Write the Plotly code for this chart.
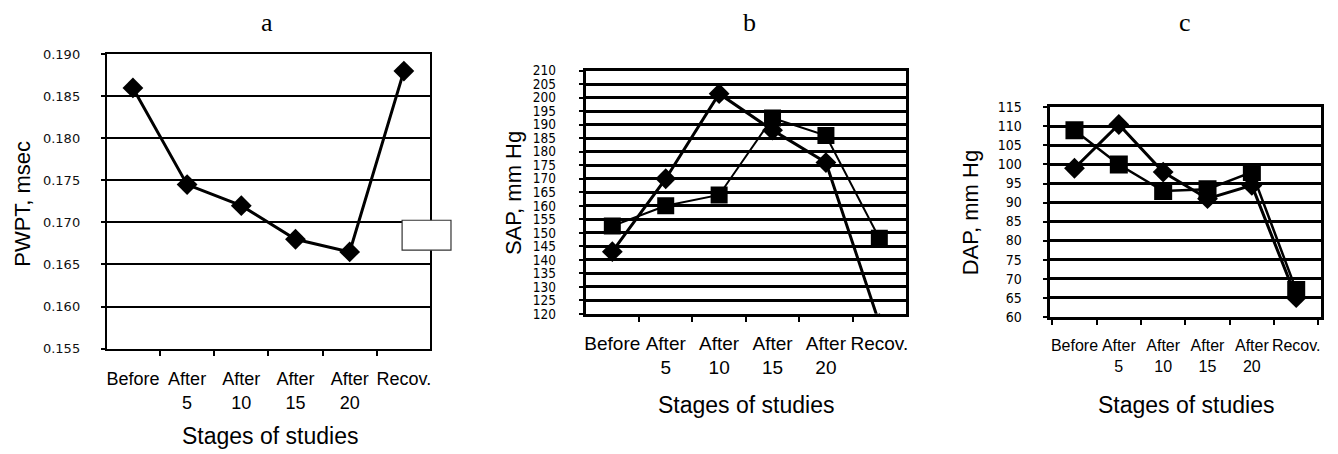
import plotly.graph_objects as go

W, H = 1338, 454

categories = ["Before", "After<br>5", "After<br>10", "After<br>15", "After<br>20", "Recov."]

# Panel a: PWPT, msec
pwpt = [0.186, 0.1745, 0.172, 0.168, 0.1665, 0.188]
pwpt_ticks = [0.155, 0.160, 0.165, 0.170, 0.175, 0.180, 0.185, 0.190]

# Panel b: SAP, mm Hg
sap_diamond = [143, 170, 201.5, 188, 176, 116.5]
sap_square = [152.5, 160, 164, 192.5, 186, 148]
sap_ticks = list(range(120, 211, 5))

# Panel c: DAP, mm Hg
dap_diamond = [99, 110.5, 98, 91, 94.5, 65]
dap_square = [109, 100, 93, 93.5, 98, 67]
dap_ticks = list(range(60, 116, 5))


def px_x(a, b):
    return [a / W, b / W]


def px_y(top, bottom):
    return [1 - bottom / H, 1 - top / H]


fig = go.Figure()

# panel a
fig.add_trace(go.Scatter(x=categories, y=pwpt, mode="lines+markers", xaxis="x", yaxis="y",
                         line=dict(color="black", width=3),
                         marker=dict(symbol="diamond", size=16, color="black"),
                         showlegend=False))
# panel b
fig.add_trace(go.Scatter(x=categories, y=sap_diamond, mode="lines+markers", xaxis="x2", yaxis="y2",
                         line=dict(color="black", width=3),
                         marker=dict(symbol="diamond", size=16, color="black"),
                         showlegend=False))
fig.add_trace(go.Scatter(x=categories, y=sap_square, mode="lines+markers", xaxis="x2", yaxis="y2",
                         line=dict(color="black", width=2),
                         marker=dict(symbol="square", size=17, color="black"),
                         showlegend=False))
# panel c
fig.add_trace(go.Scatter(x=categories, y=dap_diamond, mode="lines+markers", xaxis="x3", yaxis="y3",
                         line=dict(color="black", width=3),
                         marker=dict(symbol="diamond", size=16, color="black"),
                         showlegend=False))
fig.add_trace(go.Scatter(x=categories, y=dap_square, mode="lines+markers", xaxis="x3", yaxis="y3",
                         line=dict(color="black", width=2.5),
                         marker=dict(symbol="square", size=18, color="black"),
                         showlegend=False))

xcommon = dict(type="category", tickson="boundaries", ticks="outside", ticklen=5, tickwidth=1.5,
               tickcolor="black", showgrid=False, showline=True, linecolor="black",
               mirror=True, zeroline=False, fixedrange=True, tickangle=0)
ycommon = dict(ticks="outside", ticklen=4, tickwidth=1.5, tickcolor="black",
               showgrid=True, gridcolor="black", showline=True, linecolor="black",
               mirror=True, zeroline=False, fixedrange=True)
narrow = "Liberation Sans Narrow, DejaVu Sans Condensed, Arial Narrow, sans-serif"

fig.update_layout(
    width=W, height=H, margin=dict(l=0, r=0, t=0, b=0),
    paper_bgcolor="white", plot_bgcolor="white",
    font=dict(family="Liberation Sans, Arial, sans-serif", color="black"),
    xaxis=dict(domain=px_x(106, 430), anchor="y", linewidth=2, **xcommon,
               tickfont=dict(size=18, family="Liberation Sans, Arial", color="black"),
               ticklabelstandoff=13),
    yaxis=dict(domain=px_y(48, 353), anchor="x", range=[0.155, 0.190],
               tickvals=pwpt_ticks, ticktext=["%.3f" % v for v in pwpt_ticks],
               tickfont=dict(size=13, family="DejaVu Sans, Verdana", color="#111"),
               ticklabelstandoff=18, linewidth=2, gridwidth=1.5, **ycommon),
    xaxis2=dict(domain=px_x(586, 907), anchor="y2", linewidth=3, **xcommon,
                tickfont=dict(size=19, family="Liberation Sans, Arial", color="black"),
                ticklabelstandoff=10),
    yaxis2=dict(domain=px_y(65, 317), anchor="x2", range=[120, 210],
                tickvals=sap_ticks, ticktext=[str(v) for v in sap_ticks],
                tickfont=dict(size=13.5, family=narrow, color="black"),
                ticklabelstandoff=20, linewidth=3, gridwidth=2.5, **ycommon),
    xaxis3=dict(domain=px_x(1051, 1323), anchor="y3", linewidth=3, **xcommon,
                tickfont=dict(size=16, family="Liberation Sans, Arial", color="black"),
                ticklabelstandoff=12),
    yaxis3=dict(domain=px_y(103, 320), anchor="x3", range=[60, 115],
                tickvals=dap_ticks, ticktext=[str(v) for v in dap_ticks],
                tickfont=dict(size=14, family=narrow, color="black"),
                ticklabelstandoff=18, linewidth=3, gridwidth=2.5, **ycommon),
)

annotations = []
# panel letters
for letter, xc in [("a", 267), ("b", 750), ("c", 1187)]:
    annotations.append(dict(text=letter, x=xc / W, y=1 - 15 / H, xref="paper", yref="paper",
                            showarrow=False, xanchor="center", yanchor="middle",
                            font=dict(family="Liberation Serif, Times New Roman, serif", size=26, color="black")))
# y titles
for txt, xc, yc in [("PWPT, msec", 22, 203), ("SAP, mm Hg", 513, 192), ("DAP, mm Hg", 972, 212)]:
    annotations.append(dict(text=txt, x=xc / W, y=1 - yc / H, xref="paper", yref="paper",
                            showarrow=False, xanchor="center", yanchor="middle", textangle=-90,
                            font=dict(size=22, color="black")))
# x titles
for xc, yc in [(270, 444), (747, 412), (1188, 412)]:
    annotations.append(dict(text="Stages of studies", x=xc / W, y=1 - yc / H, xref="paper", yref="paper",
                            showarrow=False, xanchor="center", yanchor="middle",
                            font=dict(size=23, color="black")))
fig.update_layout(annotations=annotations)

# empty legend box of panel a
fig.add_shape(type="rect", xref="paper", yref="paper",
              x0=402 / W, x1=451 / W, y0=1 - 251 / H, y1=1 - 220 / H,
              line=dict(color="#333", width=1.2), fillcolor="white", layer="above")

fig.write_html("out.html")
